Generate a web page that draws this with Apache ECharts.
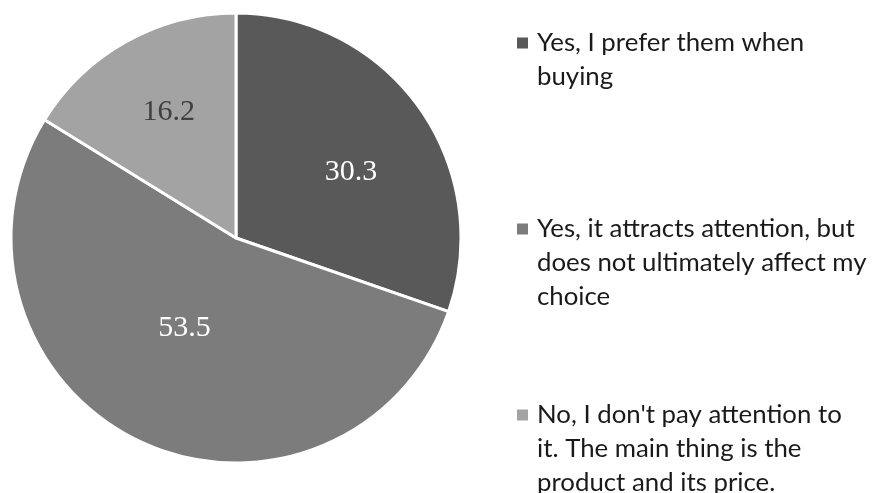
<!DOCTYPE html>
<html>
<head>
<meta charset="utf-8">
<script src="https://cdn.jsdelivr.net/npm/echarts@6/dist/echarts.min.js"></script>
<style>
  html, body { margin: 0; padding: 0; background: #fff; }
  #chart { width: 873px; height: 493px; }
</style>
</head>
<body>
<div id="chart"></div>
<script>
// Survey answers, share of respondents (%)
const categories = [
  "Yes, I prefer them when buying",
  "Yes, it attracts attention, but does not ultimately affect my choice",
  "No, I don't pay attention to it. The main thing is the product and its price."
];
const values = [30.3, 53.5, 16.2];

// Legend text broken into lines
const legendLines = [
  ["Yes, I prefer them when", "buying", " "],
  ["Yes, it attracts attention, but", "does not ultimately affect my", "choice"],
  ["No, I don't pay attention to", "it. The main thing is the", "product and its price."]
];

const sliceColors = ["#595959", "#7c7c7c", "#a3a3a3"];
const labelColors = ["#ffffff", "#ffffff", "#404040"];
// small nudges of the value labels away from the mid-radius spot
const labelShift = [[21, 1], [-2, -14], [-11, -25]];

const chart = echarts.init(document.getElementById("chart"), null, { renderer: "canvas" });

const rich = {
  s: { width: 9 },
  g: { width: 20 },
  t: { fontFamily: "Lato", fontSize: 25.8, lineHeight: 34, color: "#1a1a1a" }
};
sliceColors.forEach((c, i) => {
  rich["m" + i] = { width: 11, height: 11, backgroundColor: c };
});

chart.setOption({
  animation: false,
  backgroundColor: "#ffffff",
  legend: {
    orient: "vertical",
    left: 512,
    top: 30,
    height: 700,
    padding: 0,
    itemGap: 92,
    icon: "none",
    itemWidth: 0,
    itemHeight: 0,
    selectedMode: false,
    data: categories,
    formatter: function (name) {
      const idx = categories.indexOf(name);
      return legendLines[idx].map((line, j) =>
        (j === 0 ? "{m" + idx + "|}{s|}" : "{g|}") + "{t|" + line + "}"
      ).join("\n");
    },
    textStyle: { rich: rich }
  },
  series: [{
    type: "pie",
    center: [236, 238],
    radius: 225,
    startAngle: 90,
    clockwise: true,
    silent: true,
    emphasis: { disabled: true },
    itemStyle: { borderColor: "#ffffff", borderWidth: 3 },
    label: {
      show: true,
      position: "inside",
      formatter: "{c}",
      fontFamily: "Liberation Serif",
      fontSize: 30
    },
    labelLine: { show: false },
    labelLayout: function (params) {
      const s = labelShift[params.dataIndex];
      return { dx: s[0], dy: s[1] };
    },
    data: categories.map((name, i) => ({
      name: name,
      value: values[i],
      itemStyle: { color: sliceColors[i] },
      label: { color: labelColors[i] }
    }))
  }]
});
</script>
</body>
</html>
